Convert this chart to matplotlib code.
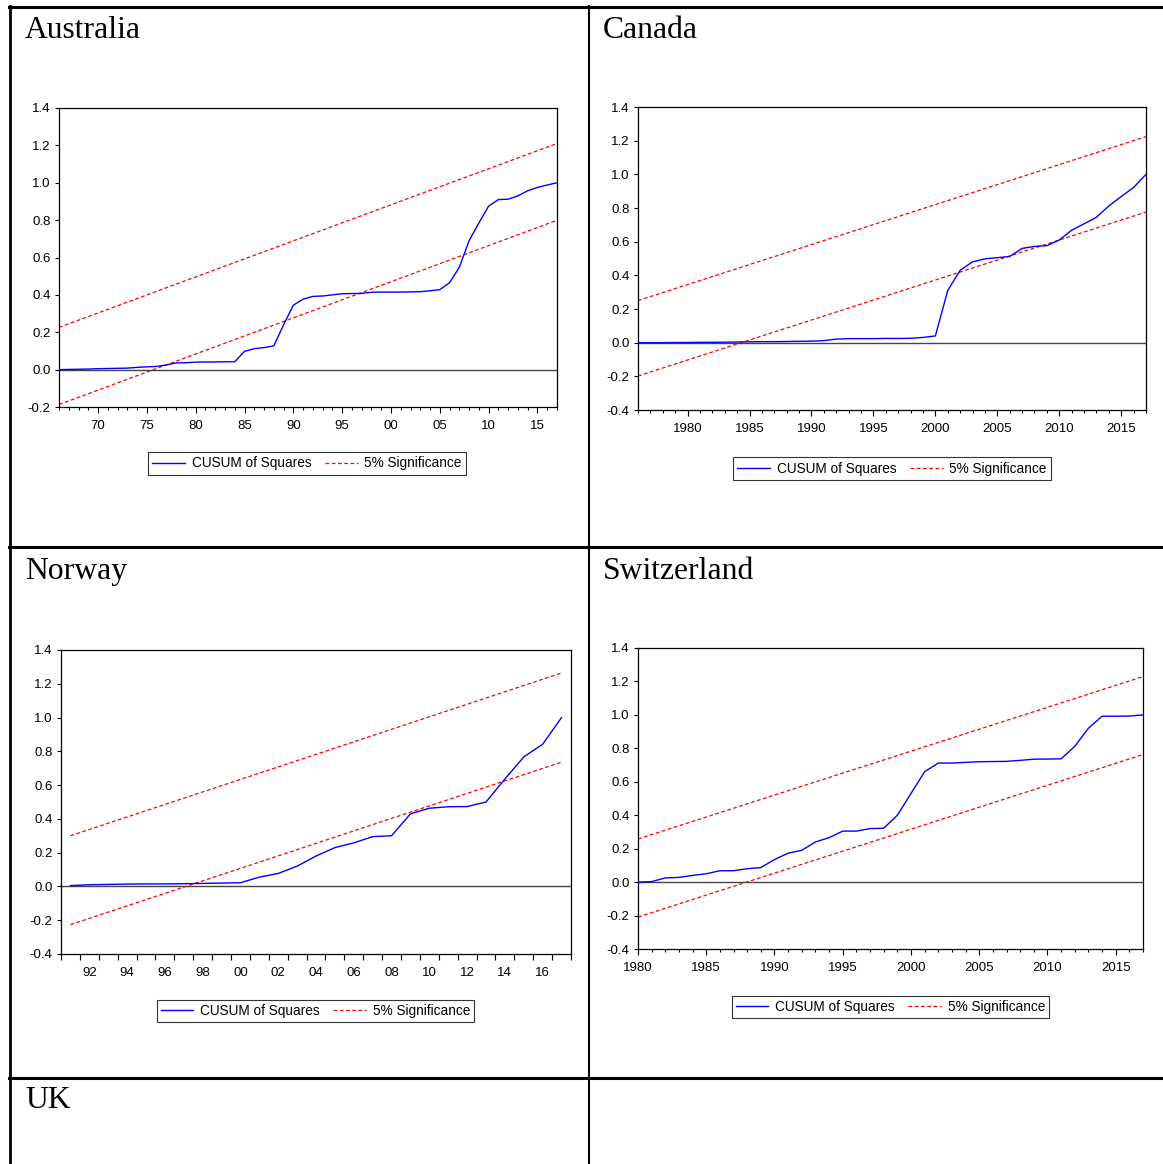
import matplotlib
matplotlib.use("Agg")
import matplotlib.pyplot as plt
import matplotlib.ticker as mticker
from matplotlib.lines import Line2D
import numpy as np

W, H = 1163, 1164

# ---- データ (CUSUM of squares, 読み取り値) ----
aus_years = np.arange(1966, 2018)
aus_cusum = [0.000, 0.001, 0.002, 0.003, 0.005, 0.006, 0.007, 0.008, 0.012, 0.015,
             0.017, 0.025, 0.036, 0.037, 0.040, 0.041, 0.041, 0.042, 0.042, 0.098,
             0.112, 0.118, 0.127, 0.240, 0.345, 0.377, 0.392, 0.394, 0.400, 0.406,
             0.407, 0.408, 0.414, 0.415, 0.415, 0.415, 0.416, 0.417, 0.422, 0.428,
             0.465, 0.548, 0.690, 0.785, 0.875, 0.910, 0.912, 0.930, 0.957, 0.975,
             0.988, 1.000]
aus_upper = [0.226, 1.210]
aus_lower = [-0.187, 0.799]

can_years = np.arange(1976, 2018)
can_cusum = [0.000, 0.000, 0.000, 0.001, 0.001, 0.002, 0.002, 0.003, 0.004, 0.005,
             0.006, 0.006, 0.007, 0.008, 0.009, 0.012, 0.021, 0.024, 0.024, 0.024,
             0.025, 0.025, 0.026, 0.031, 0.040, 0.310, 0.430, 0.480, 0.498, 0.505,
             0.512, 0.560, 0.572, 0.576, 0.610, 0.668, 0.706, 0.745, 0.812, 0.868,
             0.922, 1.000]
can_upper = [0.250, 1.224]
can_lower = [-0.198, 0.776]

nor_years = np.arange(1991, 2018)
nor_cusum = [0.005, 0.010, 0.012, 0.014, 0.015, 0.015, 0.016, 0.018, 0.020, 0.022,
             0.055, 0.077, 0.120, 0.180, 0.230, 0.258, 0.295, 0.300, 0.430, 0.463,
             0.472, 0.473, 0.500, 0.636, 0.767, 0.842, 1.000]
nor_upper = [0.300, 1.264]
nor_lower = [-0.226, 0.736]

swi_years = np.arange(1980, 2018)
swi_cusum = [0.000, 0.003, 0.025, 0.028, 0.040, 0.050, 0.068, 0.068, 0.080, 0.087,
             0.135, 0.173, 0.190, 0.240, 0.266, 0.305, 0.305, 0.320, 0.322, 0.400,
             0.530, 0.660, 0.712, 0.712, 0.716, 0.720, 0.721, 0.722, 0.728, 0.735,
             0.736, 0.737, 0.812, 0.920, 0.992, 0.992, 0.993, 1.000]
swi_upper = [0.258, 1.229]
swi_lower = [-0.209, 0.763]

labels = ["CUSUM of Squares", "5% Significance"]

SANS = ["Liberation Sans", "DejaVu Sans"]
SERIF = ["Liberation Serif", "DejaVu Serif"]

fig = plt.figure(figsize=(W / 100, H / 100), dpi=100)


def fx(px):
    return px / W


def fy(py):
    return 1 - py / H


def hline(y, x0, x1, lw):
    fig.add_artist(Line2D([fx(x0), fx(x1)], [fy(y), fy(y)], color="black", lw=lw,
                          transform=fig.transFigure))


def vline(x, y0, y1, lw):
    fig.add_artist(Line2D([fx(x), fx(x)], [fy(y0), fy(y1)], color="black", lw=lw,
                          transform=fig.transFigure))


# 表の罫線
hline(7, 9, W, 2.2)
hline(547, 9, W, 2.2)
hline(1078, 9, W, 2.2)
vline(10, 6, H, 2.0)
vline(589, 6, H, 1.5)

# 国名
for name, x, y in [("Australia", 25, 38), ("Canada", 603, 38), ("Norway", 25, 579),
                   ("Switzerland", 603, 579), ("UK", 25, 1108)]:
    fig.text(fx(x), fy(y), name, family=SERIF, fontsize=22.8, ha="left", va="baseline")


def panel(box, years, cusum, upper, lower, xlim, ylim, leg_box, style):
    l, r, t, b = box
    ax = fig.add_axes([fx(l), fy(b), fx(r - l), (b - t) / H])
    x_ends = [years[0], years[-1]]
    ax.axhline(0, color="#444444", lw=1.0, zorder=1)
    ax.plot(x_ends, upper, color="red", lw=0.9, dashes=(3, 2), zorder=2)
    ax.plot(x_ends, lower, color="red", lw=0.9, dashes=(3, 2), zorder=2)
    ax.plot(years, cusum, color="blue", lw=1.0, zorder=3)
    ax.set_xlim(*xlim)
    ax.set_ylim(*ylim)
    ax.yaxis.set_major_locator(mticker.MultipleLocator(0.2))
    ax.yaxis.set_major_formatter(mticker.FuncFormatter(lambda v, p: f"{v:.1f}"))
    for s in ax.spines.values():
        s.set_linewidth(0.9)
    ax.tick_params(axis="y", direction="out", length=3, width=0.8, pad=3,
                   labelsize=9.5)
    if style == "half":
        # ノルウェー: 目盛は年の境界、ラベルは年の中央
        ax.xaxis.set_major_locator(mticker.MultipleLocator(2))
        ax.xaxis.set_minor_locator(mticker.FixedLocator(np.arange(xlim[0], xlim[1] + 0.1, 1)))
        ax.tick_params(axis="x", which="major", length=0, pad=9, labelsize=9.5)
        ax.tick_params(axis="x", which="minor", direction="out", length=4.5, width=0.8)
        ax.xaxis.set_major_formatter(mticker.FuncFormatter(lambda v, p: f"{int(round(v)) % 100:02d}"))
    else:
        ax.xaxis.set_major_locator(mticker.MultipleLocator(5))
        ax.xaxis.set_minor_locator(mticker.MultipleLocator(1))
        ax.tick_params(axis="x", which="major", direction="out", length=4.5, width=0.8,
                       pad=5, labelsize=9.5)
        ax.tick_params(axis="x", which="minor", direction="out", length=2.5, width=0.8)
        if style == "short":
            ax.xaxis.set_major_formatter(mticker.FuncFormatter(lambda v, p: f"{int(round(v)) % 100:02d}"))
        else:
            ax.xaxis.set_major_formatter(mticker.FuncFormatter(lambda v, p: f"{int(round(v))}"))
    for lab in ax.get_xticklabels() + ax.get_yticklabels():
        lab.set_family(SANS)

    bl, br, bt, bb = leg_box
    handles = [Line2D([], [], color="blue", lw=1.0),
               Line2D([], [], color="red", lw=0.9, dashes=(3, 2))]
    leg = fig.legend(handles, labels, loc="center",
                     bbox_to_anchor=(fx((bl + br) / 2), fy((bt + bb) / 2)),
                     ncol=2, frameon=True, fancybox=False, handlelength=2.4,
                     handletextpad=0.5, columnspacing=1.0, borderpad=0.3,
                     prop={"family": SANS, "size": 9.8})
    leg.get_frame().set_edgecolor("black")
    leg.get_frame().set_linewidth(0.8)
    return ax


panel((59, 557, 108, 407), aus_years, aus_cusum, aus_upper, aus_lower,
      (1966, 2017), (-0.2, 1.4), (148, 466, 452, 475), "short")
panel((638, 1146, 107, 410), can_years, can_cusum, can_upper, can_lower,
      (1976, 2017), (-0.4, 1.4), (730, 1054, 456, 481), "long")
panel((61, 571, 650, 954), nor_years, nor_cusum, nor_upper, nor_lower,
      (1990.5, 2017.5), (-0.4, 1.4), (152, 479, 999, 1023), "half")
panel((638, 1143, 648, 949), swi_years, swi_cusum, swi_upper, swi_lower,
      (1980, 2017), (-0.4, 1.4), (729, 1052, 995, 1019), "long")

fig.savefig("out.png", dpi=100)
